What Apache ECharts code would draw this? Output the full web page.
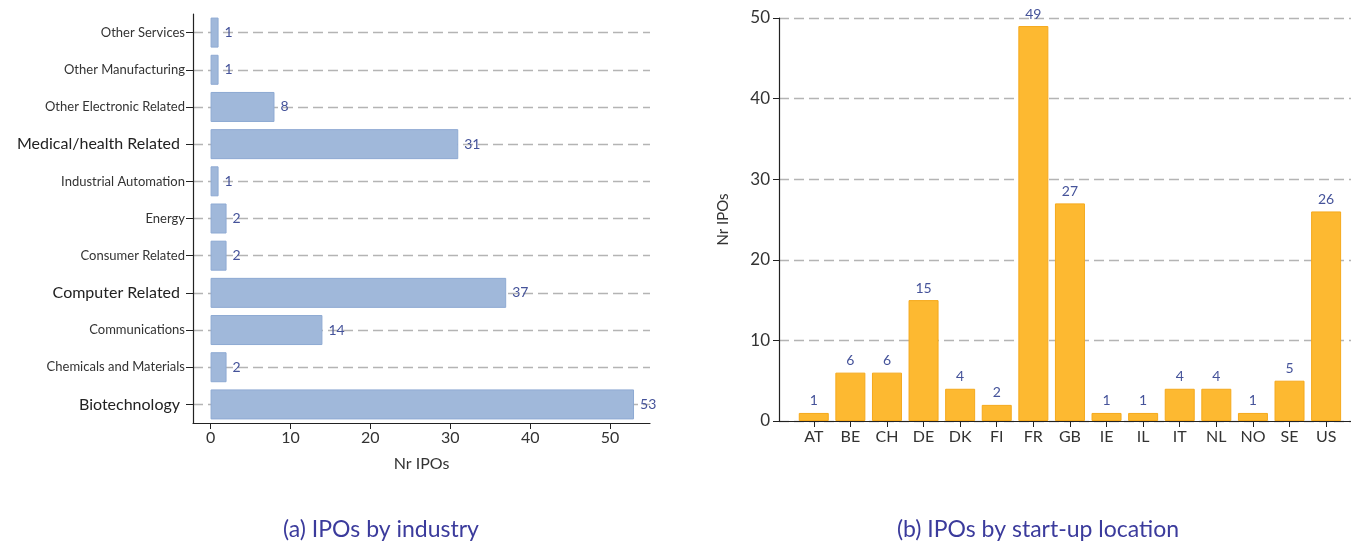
<!DOCTYPE html>
<html>
<head>
<meta charset="utf-8">
<script src="https://cdn.jsdelivr.net/npm/echarts@6/dist/echarts.min.js"></script>
<style>
  html, body { margin: 0; padding: 0; background: #fff; }
  #main { width: 1351px; height: 543px; }
</style>
</head>
<body>
<div id="main"></div>
<script>
// (a) industries, listed bottom to top as the category axis draws them
var industries = ['Biotechnology', 'Chemicals and Materials', 'Communications', 'Computer Related',
    'Consumer Related', 'Energy', 'Industrial Automation', 'Medical/health Related',
    'Other Electronic Related', 'Other Manufacturing', 'Other Services'];
var industryIpos = [53, 2, 14, 37, 2, 2, 1, 31, 8, 1, 1];
var bigIndustryLabels = ['Biotechnology', 'Computer Related', 'Medical/health Related'];
var industryTicks = [0, 10, 20, 30, 40, 50];

// (b) start-up locations
var countries = ['AT', 'BE', 'CH', 'DE', 'DK', 'FI', 'FR', 'GB', 'IE', 'IL', 'IT', 'NL', 'NO', 'SE', 'US'];
var countryIpos = [1, 6, 6, 15, 4, 2, 49, 27, 1, 1, 4, 4, 1, 5, 26];

var FONT = 'Lato, "Open Sans", sans-serif';
var labelBlue = '#45539a';
var axisStroke = { color: '#222', width: 1.2 };
var dashStyle = { color: '#b4b4b4', width: 1.3, type: [10, 5] };

var chart = echarts.init(document.getElementById('main'));

// a few industry names are printed larger in the original
var yData = industries.map(function (name) {
    var big = bigIndustryLabels.indexOf(name) >= 0;
    return {
        value: name,
        textStyle: big ? { fontSize: 16, color: '#222', padding: [0, 5, 0, 0] } : { fontSize: 13, color: '#333' }
    };
});
var countryIdx = countries.map(function (c, i) { return i; });

var option = {
    animation: false,
    textStyle: { fontFamily: FONT },
    grid: [
        { left: 193, top: 14, width: 457, height: 409 },
        { left: 779, top: 18, width: 572, height: 403 }
    ],
    xAxis: [{
        gridIndex: 0,
        type: 'value',
        min: -2.2,
        max: 55,
        name: 'Nr IPOs',
        nameLocation: 'middle',
        nameGap: 33,
        nameTextStyle: { fontSize: 16, color: '#333' },
        axisLine: { show: true, onZero: false, lineStyle: axisStroke },
        axisTick: { show: true, length: 6, customValues: industryTicks, lineStyle: { color: '#222' } },
        axisLabel: { customValues: industryTicks, fontSize: 16, color: '#333', margin: 7 },
        splitLine: { show: false }
    }, {
        gridIndex: 1,
        type: 'value',
        min: -0.95,
        max: 14.68,
        axisLine: { show: true, onZero: false, lineStyle: axisStroke },
        axisTick: { show: true, length: 6, customValues: countryIdx, lineStyle: { color: '#222' } },
        axisLabel: {
            customValues: countryIdx,
            formatter: function (v) { return countries[Math.round(v)] || ''; },
            fontSize: 16, color: '#333', margin: 8
        },
        splitLine: { show: false }
    }],
    yAxis: [{
        gridIndex: 0,
        type: 'category',
        data: yData,
        axisLine: { show: true, onZero: false, lineStyle: axisStroke },
        axisTick: { show: true, alignWithLabel: true, length: 7, lineStyle: { color: '#222' } },
        axisLabel: { margin: 8 },
        splitLine: { show: true, alignWithLabel: true, lineStyle: dashStyle }
    }, {
        gridIndex: 1,
        type: 'value',
        min: 0,
        max: 50,
        interval: 10,
        name: 'Nr IPOs',
        nameLocation: 'middle',
        nameRotate: 90,
        nameGap: 48,
        nameTextStyle: { fontSize: 15, color: '#333' },
        axisLine: { show: true, onZero: false, lineStyle: axisStroke },
        axisTick: { show: true, length: 6, lineStyle: { color: '#222' } },
        axisLabel: { fontSize: 17, color: '#333', margin: 9 },
        splitLine: { show: true, lineStyle: dashStyle }
    }],
    series: [{
        type: 'bar',
        xAxisIndex: 0,
        yAxisIndex: 0,
        data: industryIpos,
        barWidth: 30,
        itemStyle: { color: '#a0b8da', borderColor: '#8eaad3', borderWidth: 1 },
        label: { show: true, position: 'right', distance: 6, color: labelBlue, fontSize: 14 }
    }, {
        type: 'bar',
        xAxisIndex: 1,
        yAxisIndex: 1,
        data: countryIpos.map(function (v, i) { return [i, v]; }),
        barWidth: 30,
        itemStyle: { color: '#fdb931', borderColor: '#f5a91c', borderWidth: 1 },
        label: {
            show: true, position: 'top', distance: 5, color: labelBlue, fontSize: 14,
            formatter: function (p) { return p.value[1]; }
        }
    }],
    graphic: [{
        type: 'text', x: 381, y: 530,
        style: { text: '(a) IPOs by industry', fill: '#3b3b9c', font: '23px ' + FONT, align: 'center', verticalAlign: 'middle' }
    }, {
        type: 'text', x: 1038, y: 530,
        style: { text: '(b) IPOs by start-up location', fill: '#3b3b9c', font: '23px ' + FONT, align: 'center', verticalAlign: 'middle' }
    }]
};

chart.setOption(option);
</script>
</body>
</html>
